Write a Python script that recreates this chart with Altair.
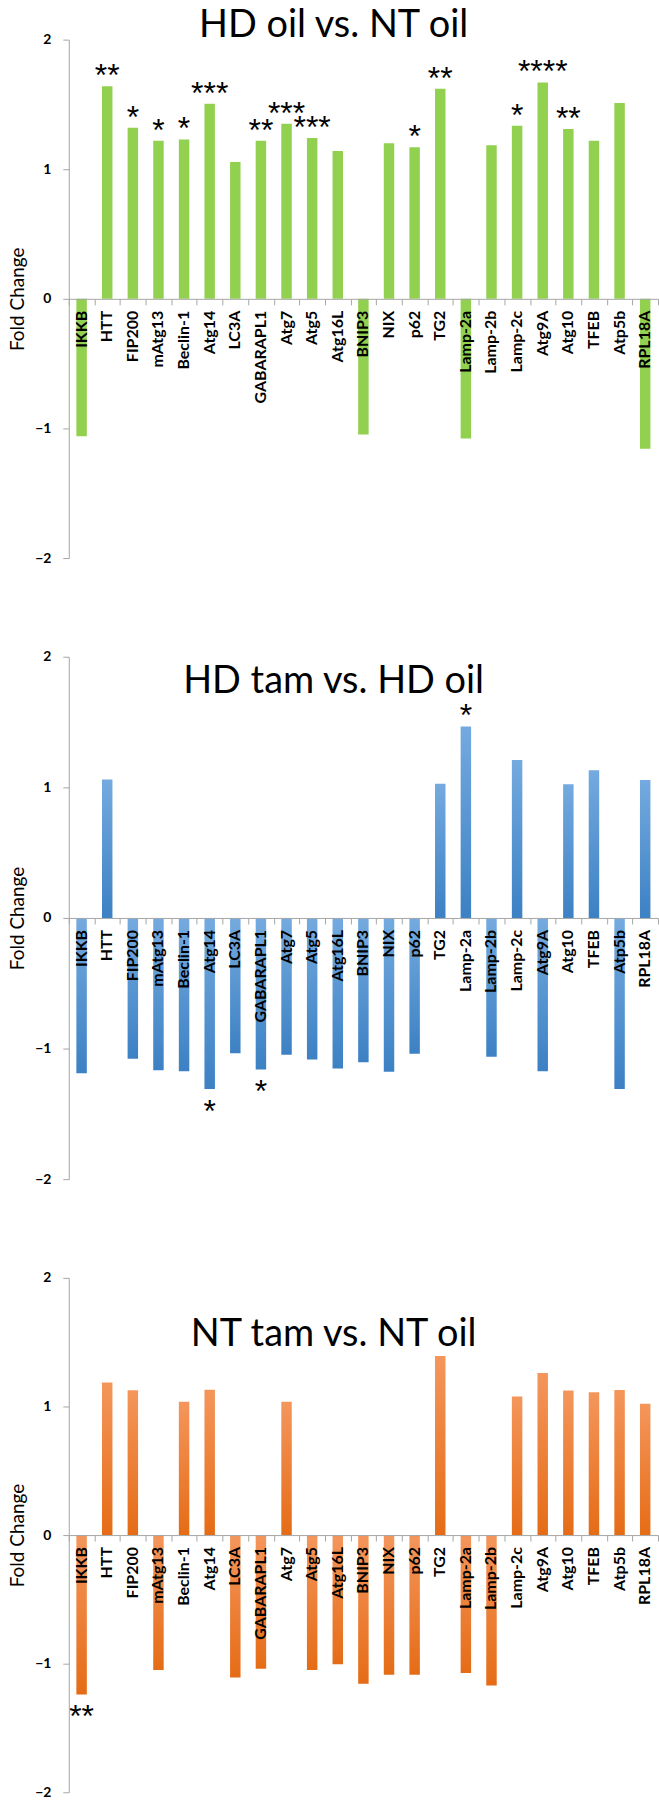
import altair as alt
import pandas as pd

# Genes along the x axis (same order in every panel)
genes = [
    "IKKB", "HTT", "FIP200", "mAtg13", "Beclin-1", "Atg14", "LC3A", "GABARAPL1",
    "Atg7", "Atg5", "Atg16L", "BNIP3", "NIX", "p62", "TG2", "Lamp-2a", "Lamp-2b",
    "Lamp-2c", "Atg9A", "Atg10", "TFEB", "Atp5b", "RPL18A",
]

# Fold change per gene for each comparison
hd_oil_vs_nt_oil = [
    -1.06, 1.64, 1.32, 1.22, 1.23, 1.505, 1.056, 1.22, 1.35, 1.24, 1.14, -1.046,
    1.20, 1.17, 1.62, -1.077, 1.185, 1.336, 1.67, 1.31, 1.22, 1.51, -1.156,
]
hd_tam_vs_hd_oil = [
    -1.19, 1.061, -1.078, -1.166, -1.173, -1.31, -1.036, -1.16, -1.048, -1.084,
    -1.153, -1.105, -1.178, -1.04, 1.028, 1.466, -1.063, 1.21, -1.173, 1.023,
    1.13, -1.31, 1.056,
]
nt_tam_vs_nt_oil = [
    -1.24, 1.186, 1.127, -1.05, 1.036, 1.13, -1.107, -1.04, 1.036, -1.05, -1.004,
    -1.156, -1.087, -1.087, 1.393, -1.073, -1.169, 1.078, 1.261, 1.124, 1.111,
    1.129, 1.021,
]

# Significance marks per gene
hd_oil_vs_nt_oil_sig = [
    "", "**", "*", "*", "*", "***", "", "**", "***", "***", "", "",
    "", "*", "**", "", "", "*", "****", "**", "", "", "",
]
hd_tam_vs_hd_oil_sig = [
    "", "", "", "", "", "*", "", "*", "", "", "", "",
    "", "", "", "*", "", "", "", "", "", "", "",
]
nt_tam_vs_nt_oil_sig = [
    "**", "", "", "", "", "", "", "", "", "", "", "",
    "", "", "", "", "", "", "", "", "", "", "",
]

titles = ["HD oil vs. NT oil", "HD tam vs. HD oil", "NT tam vs. NT oil"]
y_ticks = [-2, -1, 0, 1, 2]

FONT = "Lato"
STAR_FONT = "Liberation Sans"
GREY = "#A6A6A6"
PLOT_W = 591


def vertical_gradient(top, bottom):
    return alt.LinearGradient(
        gradient="linear",
        stops=[alt.GradientStop(color=top, offset=0),
               alt.GradientStop(color=bottom, offset=1)],
        x1=0, x2=0, y1=0, y2=1,
    )


def panel(title, values, sig, fill, height, title_offset):
    df = pd.DataFrame({"gene": genes, "fc": values, "sig": sig})

    # Category axis sits on the zero line: domain + boundary ticks only,
    # the gene names are drawn as rotated text below.
    x = alt.X(
        "gene:N",
        sort=genes,
        scale=alt.Scale(paddingInner=0, paddingOuter=0),
        axis=alt.Axis(
            title=None,
            orient="bottom",
            offset=-height / 2,
            tickBand="extent",
            labels=False,
            tickSize=6,
            tickColor=GREY,
            domainColor=GREY,
            grid=False,
            zindex=1,
        ),
    )
    y = alt.Y(
        "fc:Q",
        scale=alt.Scale(domain=[-2, 2], nice=False),
        axis=alt.Axis(
            values=y_ticks,
            format="d",
            title="Fold Change",
            titleFont=FONT,
            titleFontSize=19,
            titleFontWeight="normal",
            titleColor="black",
            titlePadding=7,
            labelFont=FONT,
            labelFontSize=14,
            labelFontWeight="bold",
            labelColor="black",
            labelPadding=12,
            tickSize=6,
            tickColor=GREY,
            domainColor=GREY,
            grid=False,
        ),
    )

    bars = alt.Chart().mark_bar(width=10.5, color=fill).encode(y=y, y2=alt.datum(0))
    gene_labels = alt.Chart().mark_text(
        font=FONT, fontSize=16, fontWeight="bold", color="black",
        angle=270, align="right", baseline="middle", dx=-12,
    ).encode(y=alt.datum(0), text="gene:N")
    stars_up = alt.Chart().transform_filter(
        "datum.fc > 0 && datum.sig != ''"
    ).mark_text(
        font=STAR_FONT, fontSize=32, color="black", baseline="alphabetic", dy=0
    ).encode(y=y, text="sig:N")
    stars_down = alt.Chart().transform_filter(
        "datum.fc < 0 && datum.sig != ''"
    ).mark_text(
        font=STAR_FONT, fontSize=32, color="black", baseline="alphabetic", dy=33
    ).encode(y=y, text="sig:N")

    return alt.layer(bars, gene_labels, stars_up, stars_down, data=df).encode(
        x=x
    ).properties(
        width=PLOT_W,
        height=height,
        title=alt.TitleParams(
            text=title,
            font=FONT,
            fontSize=38,
            fontWeight="normal",
            color="black",
            baseline="alphabetic",
            anchor="middle",
            frame="bounds",
            offset=title_offset,
        ),
    )


p1 = panel(titles[0], hd_oil_vs_nt_oil, hd_oil_vs_nt_oil_sig, "#92D050", 520, -42)
p2 = panel(titles[1], hd_tam_vs_hd_oil, hd_tam_vs_hd_oil_sig,
           vertical_gradient("#74AADF", "#3C81C4"), 524, -81)
p3 = panel(titles[2], nt_tam_vs_nt_oil, nt_tam_vs_nt_oil_sig,
           vertical_gradient("#F4965C", "#E56C16"), 516, -113)

chart = alt.vconcat(p1, p2, p3, spacing=99, bounds="flush").configure_view(
    stroke=None
).configure_axisY(
    labelFontSize=14, titleFontSize=19, labelFont=FONT, titleFont=FONT
).properties(
    padding={"left": 8, "top": 4, "right": 0, "bottom": 0},
    background="white",
)

chart.save("out.html", embed_options={"renderer": "svg", "actions": False})
